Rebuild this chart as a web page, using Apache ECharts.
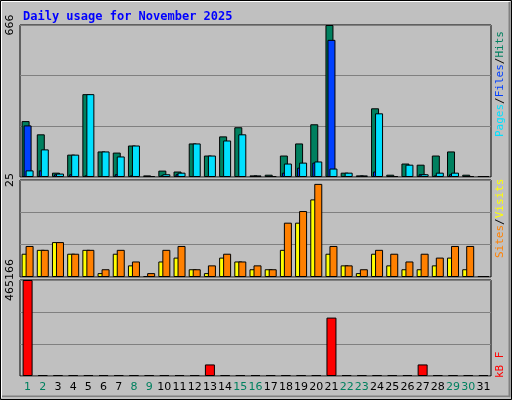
<!DOCTYPE html>
<html>
<head>
<meta charset="UTF-8">
<script src="https://cdn.jsdelivr.net/npm/echarts@6/dist/echarts.min.js"></script>
<style>
  html, body { margin: 0; padding: 0; background: #c0c0c0; }
  #chart { width: 512px; height: 400px; }
</style>
</head>
<body>
<div id="chart"></div>
<script>
const days = ['1','2','3','4','5','6','7','8','9','10','11','12','13','14','15','16','17','18','19','20','21','22','23','24','25','26','27','28','29','30','31'];
const weekend = ['1','2','8','9','15','16','22','23','29','30'];

const hits  = [245,187,19,98,363,112,107,138,7,28,24,147,94,178,218,7,10,94,147,231,666,19,7,301,10,59,54,94,112,10,0];
const files = [226,29,12,12,7,0,12,7,0,7,12,0,0,0,0,0,0,19,41,63,601,0,0,24,0,0,12,7,12,0,0];
const pages = [29,121,15,98,363,112,90,138,4,12,19,147,94,160,187,7,4,59,63,68,37,19,7,279,4,54,12,19,19,4,0];

const sites  = [6,7,9,6,7,1,6,3,0,4,5,2,1,5,4,2,2,7,14,20,6,3,1,6,3,2,2,3,5,2,0];
const visits = [8,7,9,6,7,2,7,4,1,7,8,2,3,6,4,3,2,14,17,24,8,3,2,7,6,4,6,5,8,8,0];

const kbytes = [465166,0,0,0,0,0,0,0,0,0,0,0,56000,0,0,0,0,0,0,0,283000,0,0,0,0,0,56000,0,0,0,0];

const hitsMax = 666, visitsMax = 25, kbMax = 465166;

const chart = echarts.init(document.getElementById('chart'));

function xAxis(i, labels) {
  return {
    type: 'category', gridIndex: i, data: days,
    axisLine: { show: false }, axisTick: { show: false },
    axisLabel: {
      show: labels, interval: 0, margin: 6,
      fontFamily: 'DejaVu Sans', fontSize: 11,
      color: function (v) { return weekend.indexOf(v) >= 0 ? '#00805f' : '#000'; }
    }
  };
}
function yAxis(i, max) {
  return {
    type: 'value', gridIndex: i, min: 0, max: max, interval: max / 3,
    axisLine: { show: false }, axisTick: { show: false },
    splitLine: { lineStyle: { color: '#808080', width: 1 } },
    axisLabel: {
      rotate: 90, margin: 4, fontFamily: 'DejaVu Sans', fontSize: 11, color: '#000',
      formatter: function (v) { return Math.abs(v - max) < 1e-6 ? String(max) : ''; }
    }
  };
}
const border = { borderColor: '#000', borderWidth: 1 };
function bar(name, data, color, x, width, gap) {
  return {
    name: name, type: 'bar', xAxisIndex: x, yAxisIndex: x, data: data,
    barWidth: width, barGap: gap, barMinHeight: 1, animation: false,
    itemStyle: Object.assign({ color: color }, border)
  };
}

chart.setOption({
  backgroundColor: '#c0c0c0',
  title: {
    text: 'Daily usage for November 2025', left: 18, top: 6,
    textStyle: { color: '#0000ff', fontFamily: 'DejaVu Sans Mono', fontWeight: 'bold', fontSize: 12 }
  },
  grid: [
    { left: 20, right: 21, top: 25, height: 152, show: true, borderColor: '#000', backgroundColor: 'transparent' },
    { left: 20, right: 21, top: 180, height: 97, show: true, borderColor: '#000', backgroundColor: 'transparent' },
    { left: 20, right: 21, top: 280, height: 96, show: true, borderColor: '#000', backgroundColor: 'transparent' }
  ],
  xAxis: [xAxis(0, false), xAxis(1, false), xAxis(2, true)],
  yAxis: [yAxis(0, hitsMax), yAxis(1, visitsMax), yAxis(2, kbMax)],
  series: [
    bar('Hits', hits, '#00805f', 0, 8, '-75%'),
    bar('Files', files, '#0040ff', 0, 8, '-75%'),
    bar('Pages', pages, '#00e0ff', 0, 8, '-75%'),
    bar('Sites', sites, '#ffff00', 1, 8, '-50%'),
    bar('Visits', visits, '#ff8000', 1, 8, '-50%'),
    bar('KB F', kbytes, '#ff0000', 2, 10, '0%')
  ],
  graphic: [
    { type: 'rect', shape: { x: 0.5, y: 0.5, width: 511, height: 399 }, style: { fill: 'none', stroke: '#000', lineWidth: 1 }, silent: true },
    { type: 'rect', shape: { x: 1.5, y: 1.5, width: 508, height: 396 }, style: { fill: 'none', stroke: '#fff', lineWidth: 1 }, silent: true },
    { type: 'line', shape: { x1: 2, y1: 396.5, x2: 510, y2: 396.5 }, style: { stroke: '#808080', lineWidth: 2 }, silent: true },
    { type: 'line', shape: { x1: 509.5, y1: 2, x2: 509.5, y2: 397 }, style: { stroke: '#808080', lineWidth: 2 }, silent: true },
    {
      type: 'text', x: 495, y: 137, rotation: Math.PI / 2,
      style: {
        text: '{p|Pages}{s|/}{f|Files}{s|/}{h|Hits}',
        font: '11px "DejaVu Sans Mono"',
        rich: {
          p: { fill: '#00e0ff', font: '11px "DejaVu Sans Mono"' },
          f: { fill: '#0040ff', font: '11px "DejaVu Sans Mono"' },
          h: { fill: '#00805f', font: '11px "DejaVu Sans Mono"' },
          s: { fill: '#000', font: '11px "DejaVu Sans Mono"' }
        }
      }
    },
    {
      type: 'text', x: 495, y: 258, rotation: Math.PI / 2,
      style: {
        text: '{a|Sites}{s|/}{b|Visits}',
        font: '11px "DejaVu Sans Mono"',
        rich: {
          a: { fill: '#ff8000', font: '11px "DejaVu Sans Mono"' },
          b: { fill: '#ffff00', font: '11px "DejaVu Sans Mono"' },
          s: { fill: '#000', font: '11px "DejaVu Sans Mono"' }
        }
      }
    },
    {
      type: 'text', x: 495, y: 378, rotation: Math.PI / 2,
      style: { text: 'kB F', fill: '#ff0000', font: '11px "DejaVu Sans Mono"' }
    }
  ]
});
</script>
</body>
</html>
